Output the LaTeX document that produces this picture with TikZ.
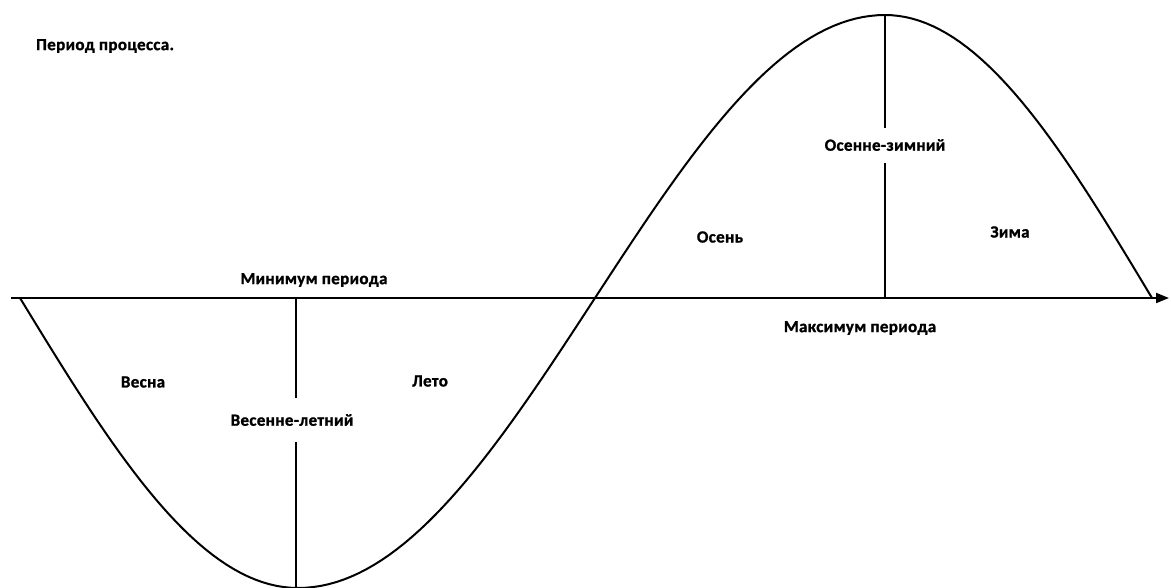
\documentclass[tikz,border=0pt]{standalone}
\usepackage{fontspec}
\setmainfont{Carlito}[LetterSpace=2, BoldFeatures={FakeBold=1.2}]
\usetikzlibrary{arrows.meta}
\begin{document}
\begin{tikzpicture}[x=1pt,y=-1pt,
  lbl/.style={font=\bfseries\fontsize{17}{19}\selectfont, inner sep=1pt},
  ln/.style={line width=2pt, black}]
\useasboundingbox (0,0) rectangle (1171,588);
% axis
\coordinate (axL) at (11,298);
\coordinate (axR) at (1169,298);
\draw[ln, -{Triangle[length=13pt,width=10pt]}] (axL) -- (axR);
% curve
\draw[ln, line join=round] plot[domain=0:1, samples=40] ({20+278*\x}, {298+290*sin(90*\x)})
  -- plot[domain=0:1, samples=40] ({298+297*\x}, {298+290*cos(90*\x)})
  -- plot[domain=0:1, samples=40] ({595+290*\x}, {298-283*sin(90*\x)})
  -- plot[domain=0:1, samples=40] ({885+267*\x}, {298-283*cos(90*\x)});
% labels
\node[lbl, anchor=west] (title) at (35,46) {Период процесса.};
\node[lbl] (minp) at (314,280) {Минимум периода};
\node[lbl] (vesna) at (143,382) {Весна};
\node[lbl] (vl) at (292,420) {Весенне-летний};
\node[lbl] (leto) at (430,381) {Лето};
\node[lbl] (osen) at (720,237) {Осень};
\node[lbl] (oz) at (885,145) {Осенне-зимний};
\node[lbl] (zima) at (1010,232) {Зима};
\node[lbl] (maxp) at (860,328) {Максимум периода};
% vertical lines
\coordinate (minT) at (296,298);
\coordinate (minB) at (296,588);
\coordinate (maxT) at (885,15);
\coordinate (maxB) at (885,298);
\draw[ln] (minT) -- (296,398);
\draw[ln] (296,442) -- (minB);
\draw[ln] (maxT) -- (885,128);
\draw[ln] (885,163) -- (maxB);
\end{tikzpicture}
\end{document}
